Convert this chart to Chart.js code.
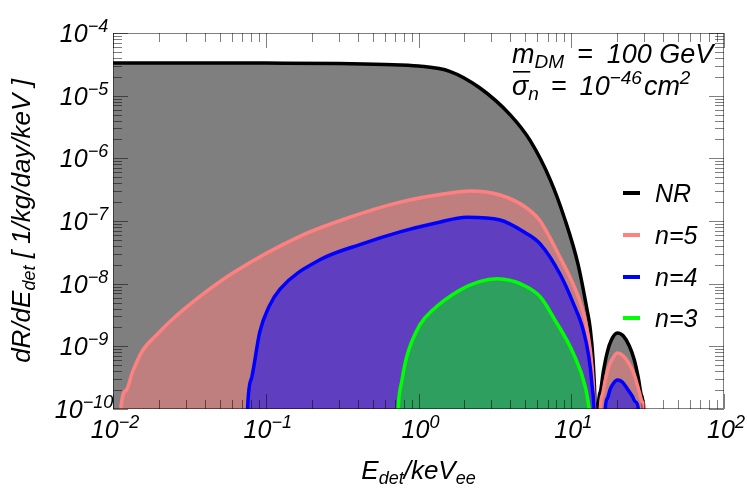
<!DOCTYPE html>
<html>
<head>
<meta charset="utf-8">
<script src="https://cdn.jsdelivr.net/npm/chart.js@4.4.1/dist/chart.umd.min.js"></script>
<style>
  html, body { margin: 0; padding: 0; background: #ffffff; }
  #c { display: block; }
</style>
</head>
<body>
<canvas id="c" width="747" height="489"></canvas>
<script>
// ---------------- data ----------------
const seriesNames = ['NR', 'n=5', 'n=4', 'n=3'];

const nrE    = [0.01, 0.03, 0.1, 0.3, 0.6, 1.0, 1.6, 2.5, 4.0, 5.4, 7.3, 9.1, 11.1, 12.7, 13.3, 13.9, 14.3, 14.5, 14.68, 15.03, 15.5, 16.21, 17.22, 18.3, 20.03, 21.93, 24.01, 25.88, 27.5, 28.77, 29.65, 30.3];
const nrRate = [3.32e-5, 3.32e-5, 3.31e-5, 3.27e-5, 3.15e-5, 2.97e-5, 2.45e-5, 1.35e-5, 4.9e-6, 1.9e-6, 4.5e-7, 1.05e-7, 2.0e-8, 3.8e-9, 1.95e-9, 6e-10, 1.3e-10, 2.4e-11, 1e-13, 1e-10, 1.87e-10, 3.9e-10, 8.1e-10, 1.26e-9, 1.63e-9, 1.46e-9, 1.01e-9, 6.05e-10, 3.1e-10, 1.67e-10, 1e-10, 1e-12];

const n5E    = [0.0111, 0.01132, 0.01222, 0.01343, 0.0156, 0.0192, 0.0245, 0.0369, 0.0608, 0.167, 0.356, 0.757, 1.61, 2.18, 3.42, 5.0, 6.26, 8.47, 9.84, 11.5, 12.5, 13.3, 13.9, 14.3, 14.5, 14.68, 15.1, 15.5, 15.97, 16.7, 17.79, 18.96, 20.03, 21.93, 24.01, 25.88, 27.93, 29.2, 30.2, 31.0];
const n5Rate = [1e-11, 1.15e-10, 2.0e-10, 3.9e-10, 8.5e-10, 1.5e-9, 2.7e-9, 6.2e-9, 1.48e-8, 5.7e-8, 1.15e-7, 2.0e-7, 2.8e-7, 3.0e-7, 2.6e-7, 1.67e-7, 1.0e-7, 2.6e-8, 1.25e-8, 4.9e-9, 2.3e-9, 9e-10, 2.8e-10, 6e-11, 1.1e-11, 1e-13, 1e-12, 1e-10, 1.67e-10, 2.9e-10, 5.1e-10, 6.8e-10, 7.8e-10, 7.0e-10, 5.2e-10, 3.5e-10, 1.85e-10, 1.3e-10, 1e-10, 1e-12];

const n4E    = [0.0748, 0.076, 0.081, 0.0914, 0.105, 0.124, 0.226, 0.413, 0.757, 1.3, 2.08, 3.42, 5.0, 6.26, 8.47, 10.3, 12.0, 13.0, 13.7, 14.2, 14.68, 16.3, 16.7, 17.22, 18.03, 18.96, 20.03, 21.6, 23.3, 25.1, 26.3, 27.5, 28.0];
const n4Rate = [1e-11, 1e-10, 3.2e-10, 1.7e-9, 4.3e-9, 8.2e-9, 2.4e-8, 4.2e-8, 6.7e-8, 9.3e-8, 1.15e-7, 1.04e-7, 6.5e-8, 4.3e-8, 1.4e-8, 4.9e-9, 1.8e-9, 7.1e-10, 2.35e-10, 5.3e-11, 1e-13, 1e-12, 1e-10, 1.47e-10, 2.1e-10, 2.6e-10, 2.9e-10, 2.7e-10, 2.1e-10, 1.6e-10, 1.3e-10, 1e-10, 1e-12];

const n3E    = [0.71, 0.735, 0.78, 0.84, 1.02, 1.24, 1.87, 2.5, 3.27, 4.0, 4.63, 6.26, 7.85, 10.3, 12.4, 13.1, 13.8, 14.3];
const n3Rate = [1e-11, 1e-10, 2.9e-10, 7e-10, 2.2e-9, 3.8e-9, 7.9e-9, 1.08e-8, 1.2e-8, 1.13e-8, 1.0e-8, 6.2e-9, 2.6e-9, 7.8e-10, 2.2e-10, 1e-10, 3e-11, 1e-12];

const xTickExps = [-2, -1, 0, 1, 2];
const yTickExps = [-10, -9, -8, -7, -6, -5, -4];
const xRange = [1e-2, 1e2];
const yRange = [1e-10, 1e-4];

// ---------------- styling ----------------
const lineColors = ['#000000', '#ff8080', '#0000ff', '#00ff00'];
const fillColors = ['rgba(0,0,0,0.5)', 'rgba(255,128,128,0.5)', 'rgba(0,0,255,0.5)', 'rgba(0,255,0,0.5)'];
const FONT = '"Liberation Sans", Arial, Helvetica, sans-serif';

function pts(xs, ys) { return xs.map((v, i) => ({ x: v, y: ys[i] })); }
const allData = [pts(nrE, nrRate), pts(n5E, n5Rate), pts(n4E, n4Rate), pts(n3E, n3Rate)];

const datasets = allData.map((d, i) => ({
  label: seriesNames[i],
  data: d,
  borderColor: lineColors[i],
  backgroundColor: fillColors[i],
  borderWidth: 3.5,
  pointRadius: 0,
  fill: 'start',
  cubicInterpolationMode: 'monotone',
  clip: 0,
  order: 4 - i
}));

// rich text: parts = [{t, size, dy, gap}]
function rich(ctx, parts, x, y, align) {
  let w = 0;
  parts.forEach(p => {
    ctx.font = `italic ${p.size}px ${FONT}`;
    p.w = ctx.measureText(p.t).width;
    w += p.w + (p.gap || 0);
  });
  let cx = align === 'center' ? x - w / 2 : (align === 'right' ? x - w : x);
  ctx.textAlign = 'left';
  ctx.textBaseline = 'alphabetic';
  parts.forEach(p => {
    ctx.font = `italic ${p.size}px ${FONT}`;
    ctx.fillText(p.t, cx, y + (p.dy || 0));
    p.x0 = cx;
    cx += p.w + (p.gap || 0);
  });
  return parts;
}
function powLabel(e) {
  return [{ t: '10', size: 25 }, { t: (e < 0 ? '\u2212' + (-e) : '' + e), size: 18, dy: -10 }];
}

const framePlugin = {
  id: 'frameTicks',
  afterDatasetsDraw(chart) {
    const { ctx, chartArea: a, scales } = chart;
    const xs = scales.x, ys = scales.y;
    ctx.save();
    ctx.strokeStyle = 'rgba(0,0,0,0.5)';
    ctx.lineWidth = 1;
    ctx.beginPath();
    for (let d = xTickExps[0]; d <= xTickExps[xTickExps.length - 1]; d++) {
      for (let k = 1; k <= 9; k++) {
        const v = k * Math.pow(10, d);
        if (v > xRange[1] * 1.0001) break;
        const px = Math.round(xs.getPixelForValue(v)) + 0.5;
        const len = k === 1 ? 15 : 9;
        ctx.moveTo(px, a.bottom); ctx.lineTo(px, a.bottom - len);
        ctx.moveTo(px, a.top); ctx.lineTo(px, a.top + len);
      }
    }
    for (let d = yTickExps[0]; d <= yTickExps[yTickExps.length - 1]; d++) {
      for (let k = 1; k <= 9; k++) {
        const v = k * Math.pow(10, d);
        if (v > yRange[1] * 1.0001) break;
        const py = Math.round(ys.getPixelForValue(v)) + 0.5;
        const len = k === 1 ? 15 : 9;
        ctx.moveTo(a.left, py); ctx.lineTo(a.left + len, py);
        ctx.moveTo(a.right, py); ctx.lineTo(a.right - len, py);
      }
    }
    ctx.stroke();
    ctx.strokeRect(Math.round(a.left) + 0.5, Math.round(a.top) + 0.5, Math.round(a.right - a.left) - 1, Math.round(a.bottom - a.top) - 1);
    ctx.restore();
  },
  afterDraw(chart) {
    const { ctx, chartArea: a, scales } = chart;
    const xs = scales.x, ys = scales.y;
    ctx.save();
    ctx.fillStyle = '#000';
    // tick labels
    xTickExps.forEach(e => {
      rich(ctx, powLabel(e), xs.getPixelForValue(Math.pow(10, e)) + 2, a.bottom + 29, 'center');
    });
    yTickExps.forEach(e => {
      rich(ctx, powLabel(e), 84, ys.getPixelForValue(Math.pow(10, e)) + 9, 'center');
    });
    // x title
    rich(ctx, [{ t: 'E', size: 26 }, { t: 'det', size: 18, dy: 5 }, { t: '/keV', size: 26 }, { t: 'ee', size: 18, dy: 5 }],
      (a.left + a.right) / 2, 479, 'center');
    // y title (rotated)
    ctx.save();
    ctx.translate(30, (a.top + a.bottom) / 2);
    ctx.rotate(-Math.PI / 2);
    rich(ctx, [{ t: 'dR/dE', size: 26 }, { t: 'det', size: 18, dy: 5 }, { t: ' [ 1/kg/day/keV ]', size: 26 }], 0, 0, 'center');
    ctx.restore();
    // annotation
    rich(ctx, [{ t: 'm', size: 27 }, { t: 'DM', size: 19, dy: 5, gap: 13 }, { t: '=', size: 27, gap: 14 }, { t: '100 GeV', size: 27 }], 512, 63, 'left');
    const p2 = rich(ctx, [{ t: '\u03C3', size: 27 }, { t: 'n', size: 19, dy: 5, gap: 12 }, { t: '=', size: 27, gap: 13 },
      { t: '10', size: 27 }, { t: '\u221246', size: 19, dy: -11, gap: 2 }, { t: 'cm', size: 27 }, { t: '2', size: 19, dy: -11 }], 512, 95, 'left');
    ctx.fillRect(p2[0].x0 + 1, 71, p2[0].w + 1, 1.6);
    // legend
    const ly = [193, 235, 277, 318];
    seriesNames.forEach((n, i) => {
      ctx.strokeStyle = lineColors[i];
      ctx.lineWidth = 4;
      ctx.beginPath(); ctx.moveTo(623, ly[i]); ctx.lineTo(640, ly[i]); ctx.stroke();
      ctx.fillStyle = '#000';
      rich(ctx, [{ t: n, size: 25 }], 655, ly[i] + 9, 'left');
    });
    ctx.restore();
  }
};

new Chart(document.getElementById('c'), {
  type: 'line',
  data: { datasets },
  options: {
    responsive: false,
    animation: false,
    devicePixelRatio: 1,
    layout: { padding: { left: 113, right: 23, top: 33, bottom: 80 } },
    plugins: { legend: { display: false }, tooltip: { enabled: false } },
    elements: { line: { tension: 0, capBezierPoints: false } },
    scales: {
      x: { type: 'logarithmic', min: xRange[0], max: xRange[1], display: false },
      y: { type: 'logarithmic', min: yRange[0], max: yRange[1], display: false }
    }
  },
  plugins: [framePlugin]
});
</script>
</body>
</html>
